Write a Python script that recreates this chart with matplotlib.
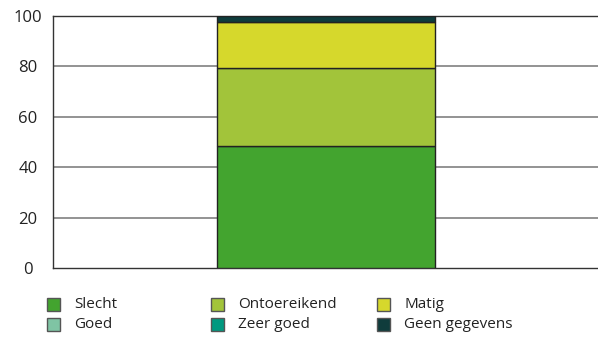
import matplotlib
matplotlib.use('Agg')
import matplotlib.pyplot as plt
from matplotlib.patches import Rectangle
import numpy as np

plt.rcParams['font.family'] = ['Open Sans', 'DejaVu Sans']

# data
categories = ['Slecht', 'Ontoereikend', 'Matig', 'Goed', 'Zeer goed', 'Geen gegevens']
values = [48.3, 31.1, 18.4, 0.0, 0.0, 2.2]
colors = ['#43a42f', '#a2c43a', '#d6d82c', '#7fc4a4', '#009980', '#0f3c3c']
yticks = [0, 20, 40, 60, 80, 100]

fig = plt.figure(figsize=(5.98, 3.42), dpi=100)
ax = fig.add_axes([53/598, 1-268/342, 1-53/598, (268-16)/342])

bottom = 0
for cat, val, col in zip(categories, values, colors):
    if val > 0:
        ax.bar(0, val, width=1, bottom=bottom, color=col, edgecolor='#222222',
               linewidth=1, zorder=3)
    bottom += val

ax.set_xlim(-1.25, 1.25)
ax.set_ylim(0, 100)
ax.set_xticks([])
ax.set_yticks(yticks)
ax.set_yticklabels([str(t) for t in yticks], fontsize=12, color='#222222', ha='center')
ax.tick_params(axis='y', length=0, pad=18)
for t in yticks[1:-1]:
    ax.axhline(t, color='#808080', linewidth=1.2, zorder=1)
ax.spines['right'].set_visible(False)
for s in ['top', 'bottom', 'left']:
    ax.spines[s].set_color('#333333')
    ax.spines[s].set_linewidth(1)

# legend (row-wise, 3 columns)
col_x = [47, 211, 377]
row_top = [298, 318]
for i, (cat, col) in enumerate(zip(categories, colors)):
    r, c = divmod(i, 3)
    x0 = col_x[c] / 598
    y0 = 1 - (row_top[r] + 13) / 342
    fig.patches.append(Rectangle((x0, y0), 13/598, 13/342, transform=fig.transFigure,
                                 facecolor=col, edgecolor='#555555', linewidth=1))
    fig.text(x0 + 27/598, y0 + 6.5/342, cat, fontsize=11, va='center', ha='left',
             color='#222222')

plt.savefig('out.png', dpi=100)
plt.close()
